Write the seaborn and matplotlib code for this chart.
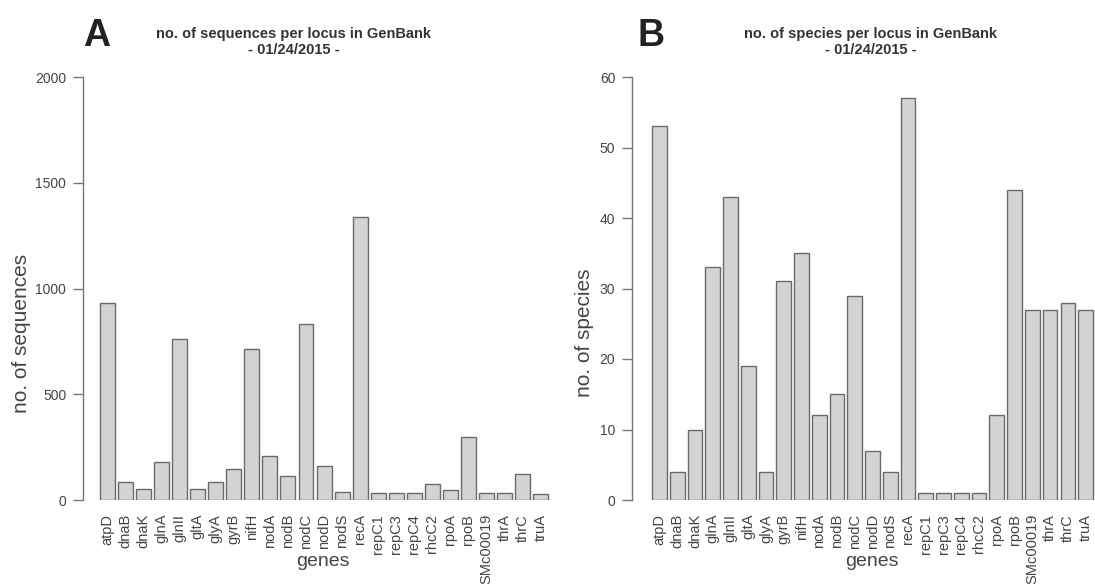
import matplotlib
matplotlib.use("Agg")
import matplotlib.pyplot as plt
import seaborn as sns
import pandas as pd

genes = ["atpD", "dnaB", "dnaK", "glnA", "glnII", "gltA", "glyA", "gyrB", "nifH",
         "nodA", "nodB", "nodC", "nodD", "nodS", "recA", "repC1", "repC3", "repC4",
         "rhcC2", "rpoA", "rpoB", "SMc00019", "thrA", "thrC", "truA"]
sequences = [933, 84, 50, 178, 761, 50, 87, 145, 716,
             207, 112, 832, 163, 40, 1338, 31, 31, 31,
             76, 47, 300, 31, 31, 124, 30]
species = [53, 4, 10, 33, 43, 19, 4, 31, 35,
           12, 15, 29, 7, 4, 57, 1, 1, 1,
           1, 12, 44, 27, 27, 28, 27]

titles = ["no. of sequences per locus in GenBank\n- 01/24/2015 -",
          "no. of species per locus in GenBank\n- 01/24/2015 -"]
ylabels = ["no. of sequences", "no. of species"]
yticks = [[0, 500, 1000, 1500, 2000], [0, 10, 20, 30, 40, 50, 60]]
letters = ["A", "B"]

sns.set_style("white")
plt.rcParams["font.family"] = ["Liberation Sans", "DejaVu Sans"]

W, H = 1095, 586
fig = plt.figure(figsize=(W / 100, H / 100), dpi=100)

TXT = "#444444"
FILL = "#d3d3d3"
EDGE = "#6a6a6a"

panels = [
    dict(left=83, right=549.5, xl=-1.365, title_x=294, letter_x=83, ylab_x=22, genes_x=323),
    dict(left=632, right=1094.5, xl=-1.55, title_x=871, letter_x=637, ylab_x=585, genes_x=872),
]
top_px, bot_px = 77, 500
datasets = [sequences, species]

for i, p in enumerate(panels):
    ax = fig.add_axes([p["left"] / W, (H - bot_px) / H,
                       (p["right"] - p["left"]) / W, (bot_px - top_px) / H])
    df = pd.DataFrame({"gene": genes, "value": datasets[i]})
    sns.barplot(data=df, x="gene", y="value", color=FILL, edgecolor=EDGE,
                linewidth=1.0, width=0.83, saturation=1, ax=ax)
    for b in ax.patches:
        b.set_facecolor(FILL)
    ax.set_xlim(p["xl"], 24.5)
    ax.set_ylim(yticks[i][0], yticks[i][-1])
    ax.set_yticks(yticks[i])
    ax.set_xlabel("")
    ax.set_ylabel("")
    for s in ["top", "right", "bottom"]:
        ax.spines[s].set_visible(False)
    ax.spines["left"].set_color("#777777")
    ax.spines["left"].set_linewidth(1.0)
    ax.tick_params(axis="y", direction="out", length=7, width=1.0, color="#777777",
                   labelsize=10, labelcolor=TXT, pad=5, left=True)
    ax.tick_params(axis="x", length=0, labelsize=10.5, labelcolor=TXT, pad=10,
                   rotation=90)
    ax.patch.set_alpha(0)

    fig.text(p["title_x"] / W, 1 - 42 / H, titles[i], ha="center", va="center",
             fontsize=10.5, fontweight="bold", color="#333333", linespacing=1.1)
    fig.text(p["letter_x"] / W, 1 - 36 / H, letters[i], ha="left", va="center",
             fontsize=27, fontweight="bold", color="#222222")
    fig.text(p["ylab_x"] / W, 1 - 333 / H, ylabels[i], ha="center", va="center",
             rotation=90, fontsize=15, color=TXT)
    fig.text(p["genes_x"] / W, 1 - 562 / H, "genes", ha="center", va="center",
             fontsize=14, color=TXT)

fig.savefig("out.png", dpi=100, facecolor="white")
